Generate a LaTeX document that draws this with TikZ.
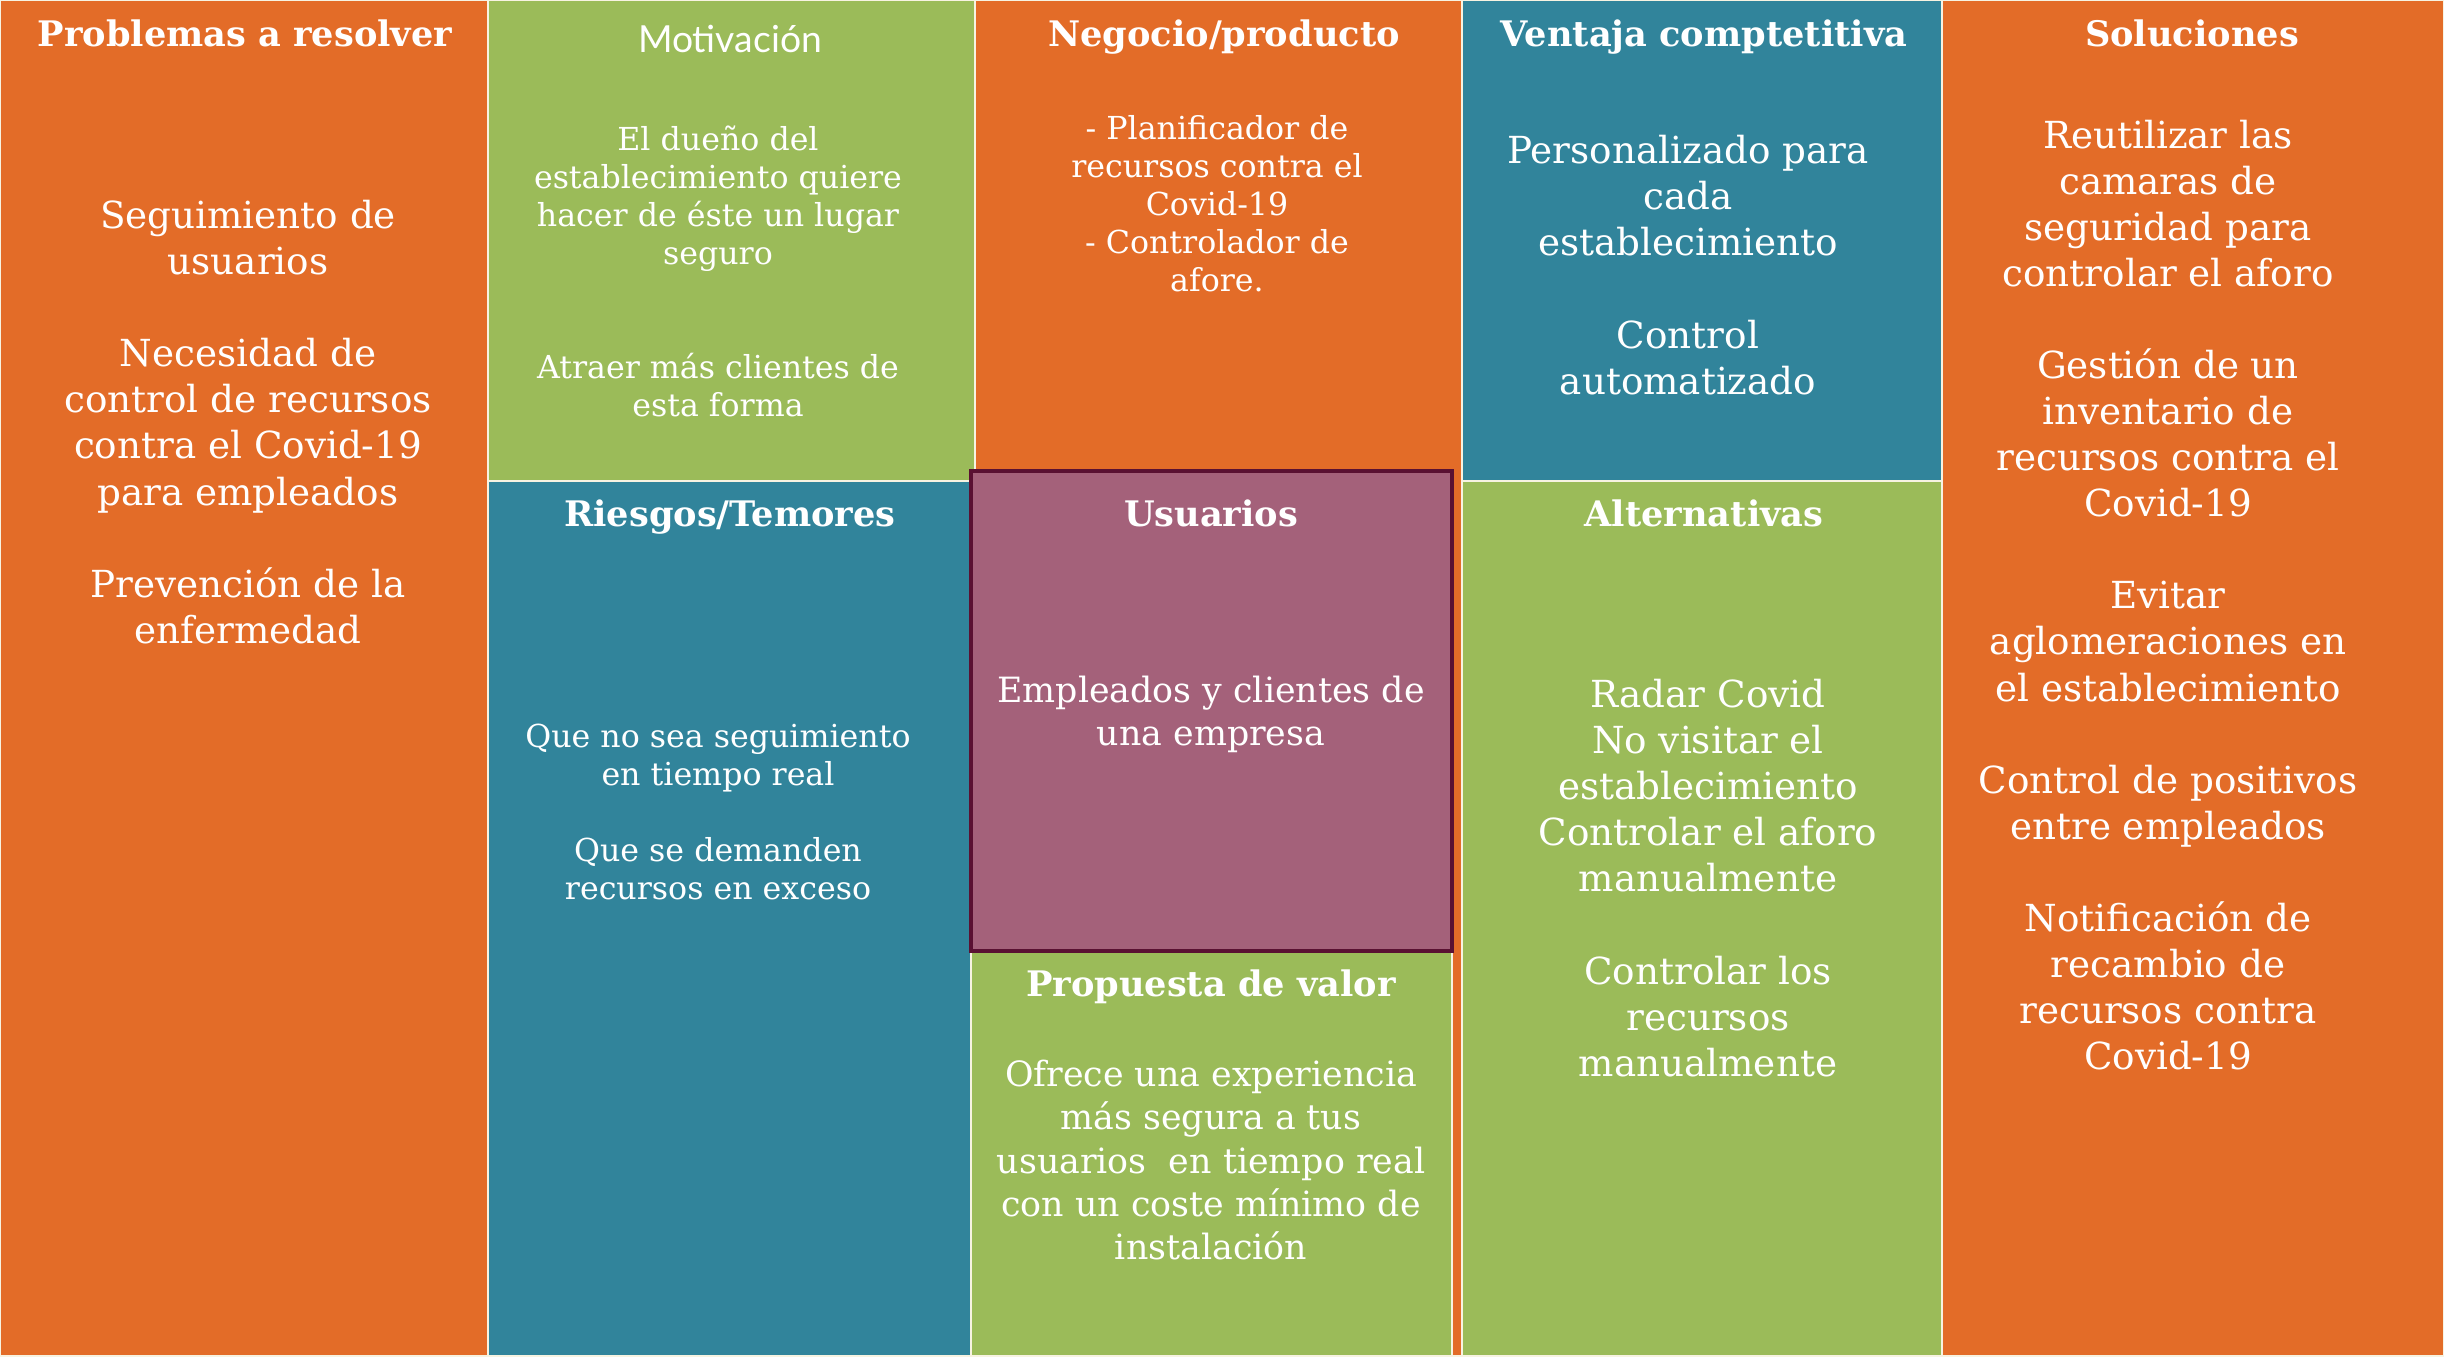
\documentclass[tikz,border=0pt]{standalone}
\usepackage{fontspec}
\setmainfont{DejaVu Serif}
\newfontfamily\latofont{Lato}
\definecolor{naranja}{HTML}{E36C28}
\definecolor{verde}{HTML}{9BBB59}
\definecolor{azul}{HTML}{31849B}
\definecolor{malva}{HTML}{A4617A}
\definecolor{granate}{HTML}{5A1132}
\definecolor{linea}{HTML}{F7F3E2}

\begin{document}
\begin{tikzpicture}[x=0.01cm,y=-0.01cm,
  every node/.style={text=white,align=center,inner sep=0pt},
  celda/.style={draw=linea,line width=0.7pt},
  titulo/.style={anchor=base,font=\fontsize{10}{12}\selectfont\bfseries},
  grande/.style={font=\fontsize{10.6}{13.1}\selectfont},
  medio/.style={font=\fontsize{9.9}{12.3}\selectfont},
  chico/.style={font=\fontsize{9}{10.8}\selectfont}]
  \useasboundingbox (0,0) rectangle (2444,1356);
  % celdas del lienzo
  \draw[celda,fill=naranja] (0,0) rectangle (488,1356);
  \draw[celda,fill=verde] (488,0) rectangle (975,481);
  \draw[celda,fill=azul] (488,481) rectangle (975,1356);
  \draw[celda,fill=naranja] (975,0) rectangle (1462,1356);
  \draw[celda,fill=azul] (1462,0) rectangle (1942,481);
  \draw[celda,fill=verde] (1462,481) rectangle (1942,1356);
  \draw[celda,fill=naranja] (1942,0) rectangle (2444,1356);
  \draw[celda,fill=verde] (971,951) rectangle (1452,1356);
  \draw[draw=granate,line width=1.15pt,fill=malva] (971,471) rectangle (1452,951);

  \node[titulo] (problemas) at (245,46) {Problemas a resolver};
  \node[grande] (problemasT) at (248,422)
    {Seguimiento de\\usuarios\\[\baselineskip]Necesidad de\\control de recursos\\contra el Covid-19\\para empleados\\[\baselineskip]Prevención de la\\enfermedad};

  \node[font=\fontsize{10.6}{12.7}\selectfont\latofont] (motivacion) at (730,39) {Motivación};
  \node[chico] (motivacionT) at (718,271)
    {El dueño del\\establecimiento quiere\\hacer de éste un lugar\\seguro\\[2\baselineskip]Atraer más clientes de\\esta forma};

  \node[titulo] (riesgos) at (730,526) {Riesgos/Temores};
  \node[chico] (riesgosT) at (718,812)
    {Que no sea seguimiento\\en tiempo real\\[\baselineskip]Que se demanden\\recursos en exceso};

  \node[titulo] (negocio) at (1224,46) {Negocio/producto};
  \node[chico] (negocioT) at (1217,204)
    {- Planificador de\\recursos contra el\\Covid-19\\- Controlador de\\afore.};

  \node[titulo] (usuarios) at (1211,526) {Usuarios};
  \node[medio] (usuariosT) at (1211,714) {Empleados y clientes de\\una empresa};

  \node[titulo] (propuesta) at (1211,996) {Propuesta de valor};
  \node[medio] (propuestaT) at (1211,1160)
    {Ofrece una experiencia\\más segura a tus\\usuarios\ \ en tiempo real\\con un coste mínimo de\\instalación};

  \node[titulo] (ventaja) at (1704,46) {Ventaja comptetitiva};
  \node[grande] (ventajaT) at (1688,265)
    {Personalizado para\\cada\\establecimiento\\[\baselineskip]Control\\automatizado};

  \node[titulo] (alternativas) at (1704,526) {Alternativas};
  \node[grande] (alternativasT) at (1708,878)
    {Radar Covid\\No visitar el\\establecimiento\\Controlar el aforo\\manualmente\\[\baselineskip]Controlar los\\recursos\\manualmente};

  \node[titulo] (soluciones) at (2192,46) {Soluciones};
  \node[grande] (solucionesT) at (2168,595)
    {Reutilizar las\\camaras de\\seguridad para\\controlar el aforo\\[\baselineskip]Gestión de un\\inventario de\\recursos contra el\\Covid-19\\[\baselineskip]Evitar\\aglomeraciones en\\el establecimiento\\[\baselineskip]Control de positivos\\entre empleados\\[\baselineskip]Notificación de\\recambio de\\recursos contra\\Covid-19};
\end{tikzpicture}
\end{document}
